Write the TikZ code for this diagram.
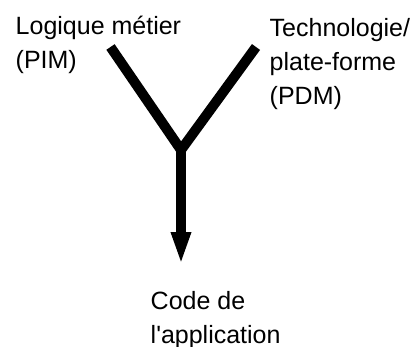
\documentclass[tikz,border=0pt]{standalone}
\usepackage{fontspec}
\setmainfont{Liberation Sans}
\usetikzlibrary {arrows.meta, positioning}
\tikzset{
    >={Triangle[length=33pt, width=18pt]},
    txt/.style={anchor=base west, inner sep=0pt, align=left,
        font=\fontsize{25pt}{34pt}\selectfont},
    arm/.style={line width=10pt, miter limit=10}
}

\begin{document}
\begin{tikzpicture}[x=1pt, y=-1pt]
    \useasboundingbox (0, 0) rectangle (417, 347);
    % texts (base = last line)
    \node[txt] (pim) at (15.5, 68.5) {Logique métier\\(PIM)};
    \node[txt] (pdm) at (269.5, 105) {Technologie/\\plate-forme\\(PDM)};
    \node[txt] (code) at (150.5, 343) {Code de\\l\textquotesingle application};
    % the Y
    \coordinate (pimend) at (110.5, 47);
    \coordinate (pdmend) at (256, 47);
    \coordinate (join) at (181, 150);
    \coordinate (codeend) at (181, 265);
    \draw[arm] (pimend) -- (join) -- (pdmend);
    \draw[arm, ->] (join) -- (codeend);
\end{tikzpicture}
\end{document}
